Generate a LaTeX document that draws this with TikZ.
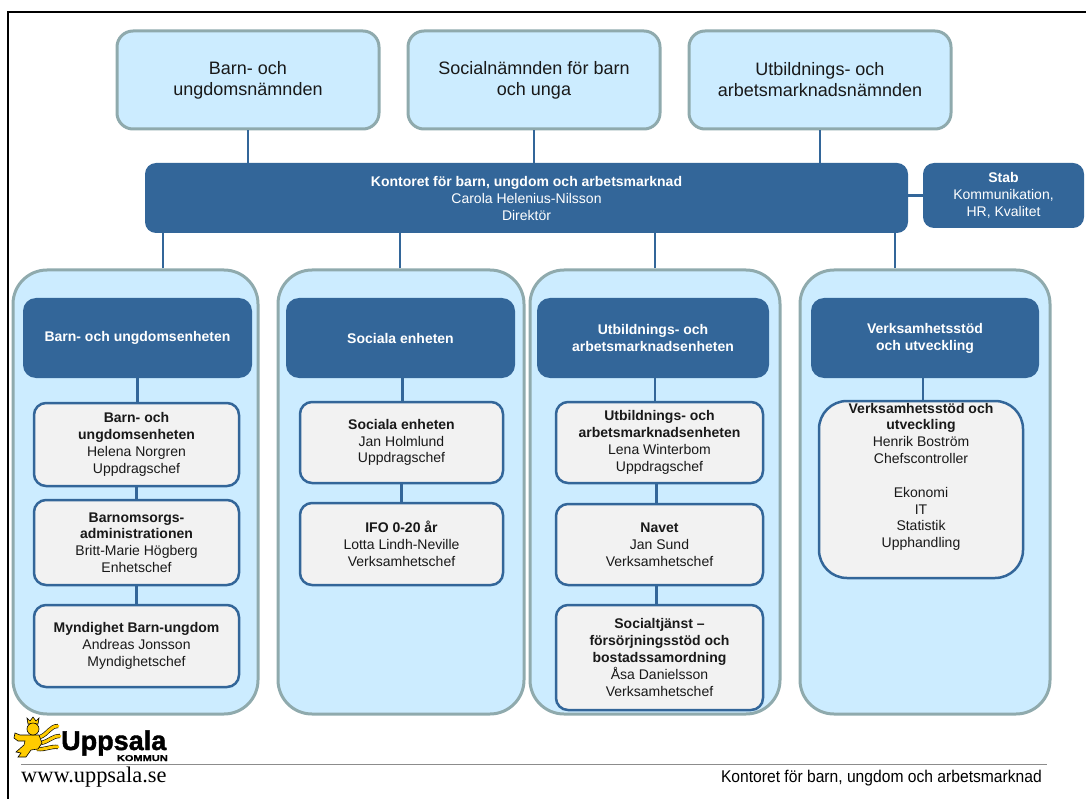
\documentclass[tikz,border=0pt]{standalone}
\usepackage{fontspec}
\setmainfont{Liberation Sans}
\newfontfamily\webfont{Liberation Serif}
\newfontfamily\footfont[FakeStretch=0.92]{Liberation Sans}
\newfontfamily\logofont[BoldFeatures={FakeBold=1.5}]{Liberation Sans}
\definecolor{paleblue}{RGB}{204,236,255}
\definecolor{rimgrey}{RGB}{143,170,173}
\definecolor{navy}{RGB}{51,102,153}
\definecolor{cardgrey}{RGB}{242,242,242}
\definecolor{inkgrey}{RGB}{25,25,25}
\definecolor{lionyellow}{RGB}{255,204,0}
\tikzset{
  board/.style={draw=rimgrey, fill=paleblue, line width=3pt, rounded corners=16pt,
    align=center, inner sep=0pt, text=inkgrey, font=\fontsize{18}{21}\selectfont},
  office/.style={fill=navy, text=white, rounded corners=11pt, align=center,
    inner sep=0pt, font=\fontsize{14}{17}\selectfont},
  colbox/.style={draw=rimgrey, fill=paleblue, line width=3pt, rounded corners=34pt,
    inner sep=0pt},
  headbox/.style={fill=navy, text=white, rounded corners=13pt, align=center,
    inner sep=0pt, font=\fontsize{14}{17}\selectfont\bfseries},
  unitbox/.style={draw=navy, fill=cardgrey, line width=2.5pt, rounded corners=12pt,
    align=center, inner sep=0pt, text=inkgrey, font=\fontsize{14}{16.8}\selectfont},
  link/.style={draw=navy, line width=2.5pt},
  mane/.style={line width=3pt, line cap=round, draw=lionyellow,
    preaction={draw=black, line width=4.2pt}},
}
\begin{document}
\begin{tikzpicture}[x=1pt,y=-1pt]
  \useasboundingbox (0,0) rectangle (1086,799);
  \draw[line width=2pt] (8,799) -- (8,12) -- (1086,12);

  % boards
  \node[board, minimum width=262pt, minimum height=98pt] (bun) at (248,80)
    {Barn- och\\ungdomsnämnden};
  \node[board, minimum width=252pt, minimum height=98pt] (sbu) at (534,80)
    {Socialnämnden för barn\\och unga};
  \node[board, minimum width=262pt, minimum height=98pt] (uan) at (820,80)
    {Utbildnings- och\\arbetsmarknadsnämnden};

  % office and stab
  \node[office, minimum width=763pt, minimum height=70pt] (kontor) at (526.5,198)
    {\textbf{Kontoret för barn, ungdom och arbetsmarknad}\\Carola Helenius-Nilsson\\Direktör};
  \node[office, minimum width=161pt, minimum height=65pt] (stab) at (1003.5,195.5)
    {\textbf{Stab}\\Kommunikation,\\HR, Kvalitet};
  \draw[link] (bun.south) -- (bun.south |- kontor.north);
  \draw[link] (sbu.south) -- (sbu.south |- kontor.north);
  \draw[link] (uan.south) -- (uan.south |- kontor.north);
  \draw[link] (stab.west) -- (stab.west -| kontor.east);

  % columns
  \node[colbox, minimum width=245pt, minimum height=444pt] (col1) at (135.5,492) {};
  \node[colbox, minimum width=246pt, minimum height=444pt] (col2) at (401,492) {};
  \node[colbox, minimum width=250pt, minimum height=444pt] (col3) at (655,492) {};
  \node[colbox, minimum width=250pt, minimum height=444pt] (col4) at (925,492) {};
  \draw[link] ([xshift=27.5pt]col1.north) -- ([xshift=27.5pt]col1.north |- kontor.south);
  \draw[link] ([xshift=-1pt]col2.north) -- ([xshift=-1pt]col2.north |- kontor.south);
  \draw[link] (col3.north) -- (col3.north |- kontor.south);
  \draw[link] ([xshift=-30pt]col4.north) -- ([xshift=-30pt]col4.north |- kontor.south);

  % headings
  \node[headbox, minimum width=229pt, minimum height=80pt] (h1) at (137.5,338)
    {Barn- och ungdomsenheten};
  \node[headbox, minimum width=229pt, minimum height=80pt] (h2) at (400.5,338)
    {Sociala enheten};
  \node[headbox, minimum width=232pt, minimum height=80pt] (h3) at (653,338)
    {Utbildnings- och\\arbetsmarknadsenheten};
  \node[headbox, minimum width=228pt, minimum height=80pt] (h4) at (925,338)
    {Verksamhetsstöd\\och utveckling};

  % units
  \node[unitbox, minimum width=205pt, minimum height=83pt] (u11) at (136.5,444.5)
    {\textbf{Barn- och}\\\textbf{ungdomsenheten}\\Helena Norgren\\Uppdragschef};
  \node[unitbox, minimum width=205pt, minimum height=85pt] (u12) at (136.5,542.5)
    {\textbf{Barnomsorgs-}\\\textbf{administrationen}\\Britt-Marie Högberg\\Enhetschef};
  \node[unitbox, minimum width=205pt, minimum height=82pt] (u13) at (136.5,646)
    {\textbf{Myndighet Barn-ungdom}\\Andreas Jonsson\\Myndighetschef};
  \node[unitbox, minimum width=203pt, minimum height=81pt] (u21) at (401.5,442.5)
    {\textbf{Sociala enheten}\\Jan Holmlund\\Uppdragschef};
  \node[unitbox, minimum width=203pt, minimum height=82pt] (u22) at (401.5,544)
    {\textbf{IFO 0-20 år}\\Lotta Lindh-Neville\\Verksamhetschef};
  \node[unitbox, minimum width=207pt, minimum height=81pt] (u31) at (659.5,442.5)
    {\textbf{Utbildnings- och}\\\textbf{arbetsmarknadsenheten}\\Lena Winterbom\\Uppdragschef};
  \node[unitbox, minimum width=207pt, minimum height=81pt] (u32) at (659.5,544.5)
    {\textbf{Navet}\\Jan Sund\\Verksamhetschef};
  \node[unitbox, minimum width=207pt, minimum height=105pt] (u33) at (659.5,657.5)
    {\textbf{Socialtjänst --}\\\textbf{försörjningsstöd och}\\\textbf{bostadssamordning}\\Åsa Danielsson\\Verksamhetschef};
  \node[unitbox, rounded corners=28pt, minimum width=204pt, minimum height=177pt] (u41) at (921,489.5) {};
  \node[unitbox, draw=none, fill=none, anchor=north] (u41text) at ([yshift=-2pt]u41.north)
    {\textbf{Verksamhetsstöd och}\\\textbf{utveckling}\\Henrik Boström\\Chefscontroller\\[17pt]Ekonomi\\IT\\Statistik\\Upphandling};

  \draw[link] (h1.south) -- (h1.south |- u11.north);
  \draw[link] (u11.south) -- (u11.south |- u12.north);
  \draw[link] (u12.south) -- (u12.south |- u13.north);
  \draw[link] ([xshift=2pt]h2.south) -- ([xshift=2pt]h2.south |- u21.north);
  \draw[link] (u21.south) -- (u21.south |- u22.north);
  \draw[link] ([xshift=2pt]h3.south) -- ([xshift=2pt]h3.south |- u31.north);
  \draw[link] ([xshift=-3pt]u31.south) -- ([xshift=-3pt]u31.south |- u32.north);
  \draw[link] ([xshift=-3pt]u32.south) -- ([xshift=-3pt]u32.south |- u33.north);
  \draw[link] ([xshift=-2pt]h4.south) -- ([xshift=-2pt]h4.south |- u41.north);

  % logo
  \begin{scope}[shift={(12,714)}]
    \draw[mane] (28,23) .. controls (36,20) and (38,12) .. (46,12);
    \draw[mane] (29,29) .. controls (38,27) and (40,22) .. (48,22);
    \draw[mane] (25,35) .. controls (34,36) and (38,32) .. (46,33);
    \filldraw[fill=lionyellow, draw=black, line width=0.6pt]
      (14,21) -- (27,21) -- (30,29) -- (26,35) -- (19,36) -- (14,43) -- (6,43)
      -- (9,39) -- (4,38) -- (12,31) -- (13,27) -- (6,27) -- (2,24) -- (3,19)
      -- (8,21) -- cycle;
    \filldraw[fill=lionyellow, draw=black, line width=0.6pt]
      (16,10) -- (15,4) -- (18,7) -- (21,3) -- (24,7) -- (27,4) -- (26,10) -- cycle;
    \filldraw[fill=lionyellow, draw=black, line width=0.6pt]
      (21,15) circle (6pt);
  \end{scope}
  \node[anchor=base west, inner sep=0pt, text depth=0pt,
    font=\logofont\fontsize{27}{27}\selectfont\bfseries]
    (uppsala) at (61,750) {Uppsala};
  \node[anchor=base east, inner sep=0pt, font=\logofont\fontsize{8.5}{8.5}\selectfont\bfseries]
    (kommun) at (168,761) {\scalebox{1.3}[1]{KOMMUN}};

  % footer
  \draw[draw={rgb,255:red,140;green,140;blue,140}, line width=1.5pt] (21,764.5) -- (1047,764.5);
  \node[anchor=west, inner sep=0pt, font=\webfont\fontsize{22.4}{22.4}\selectfont]
    (web) at (21,777) {www.uppsala.se};
  \node[anchor=east, inner sep=0pt, font=\footfont\fontsize{17}{17}\selectfont]
    (footer) at (1042,778) {Kontoret för barn, ungdom och arbetsmarknad};
\end{tikzpicture}
\end{document}
